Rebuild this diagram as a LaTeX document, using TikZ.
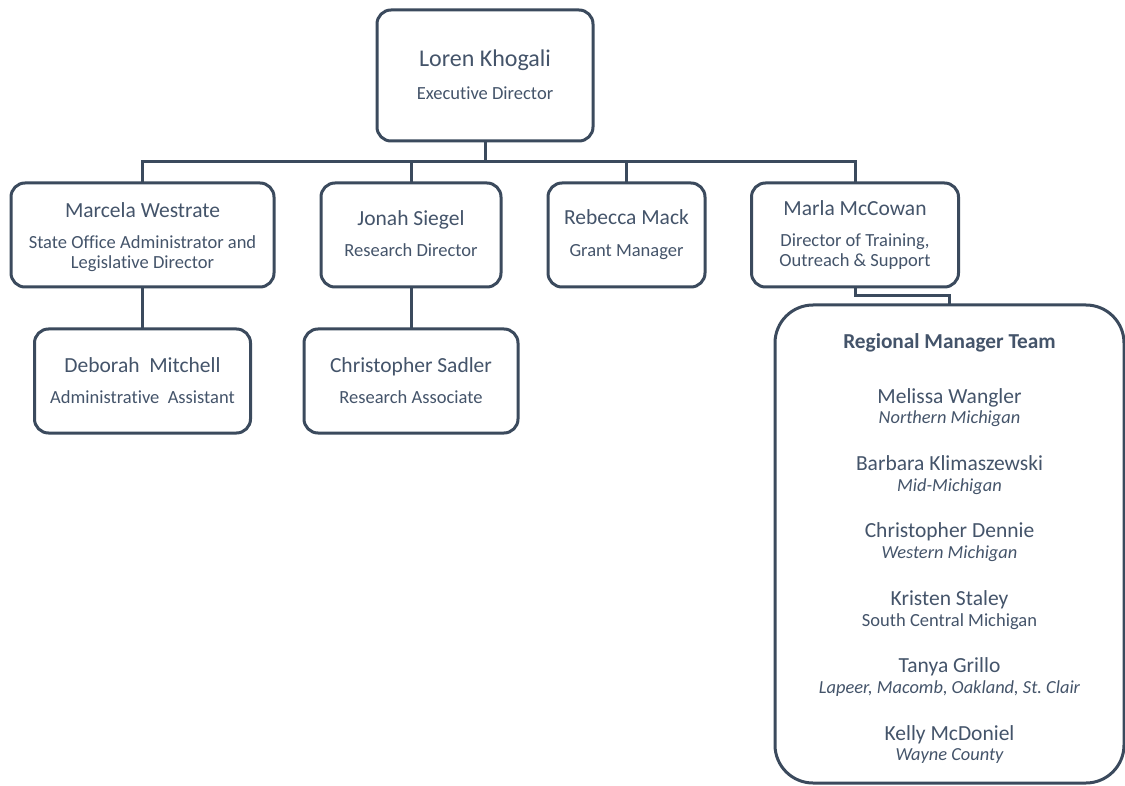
\documentclass[tikz,border=0pt]{standalone}
\usepackage{fontspec}
\setmainfont{Carlito}[Ligatures=CommonOff]
\frenchspacing
\definecolor{ln}{HTML}{3B4A5D}
\definecolor{tx}{HTML}{44546A}
\begin{document}
\begin{tikzpicture}[x=1pt,y=-1pt,
  box/.style={draw=ln,line width=3pt,rounded corners=14pt,inner sep=0pt,outer sep=0pt,fill=white},
  conn/.style={draw=ln,line width=3pt},
  nm/.style={text=tx,anchor=base,inner sep=0pt,font=\fontsize{21.5}{24}\selectfont},
  bignm/.style={nm,font=\fontsize{24}{26}\selectfont},
  sub/.style={text=tx,anchor=base,inner sep=0pt,font=\fontsize{18.5}{21}\selectfont},
  loc/.style={text=tx,anchor=base,inner sep=0pt,font=\fontsize{18.4}{21}\selectfont\itshape},
  ttl/.style={text=tx,anchor=base,inner sep=0pt,font=\fontsize{21.3}{24}\selectfont\bfseries}]
\useasboundingbox (0,0) rectangle (1125,786);
\fill[white] (0,0) rectangle (1125,786);

% boxes
\node[box,minimum width=216pt,minimum height=131pt] (top) at (485,75.5) {};
\node[box,minimum width=263pt,minimum height=104pt] (marcela) at (142.5,235) {};
\node[box,minimum width=180pt,minimum height=104pt] (jonah) at (411,235) {};
\node[box,minimum width=157pt,minimum height=104pt] (rebecca) at (626.5,235) {};
\node[box,minimum width=207pt,minimum height=104pt] (marla) at (855,235) {};
\node[box,minimum width=216pt,minimum height=104pt] (deborah) at (142.5,381) {};
\node[box,minimum width=214pt,minimum height=104pt] (sadler) at (411,381) {};
\node[box,minimum width=349pt,minimum height=478pt,rounded corners=38pt] (regional) at (949.5,544) {};

% connectors
\coordinate (bus) at (0,162);
\draw[conn] (top.south) -- (top.south |- bus);
\draw[conn] (marcela.north) -- (marcela.north |- bus) -- (marla.north |- bus) -- (marla.north);
\draw[conn] (jonah.north) -- (jonah.north |- bus);
\draw[conn] (rebecca.north) -- (rebecca.north |- bus);
\draw[conn] (marcela.south) -- (deborah.north);
\draw[conn] (jonah.south) -- (sadler.north);
\draw[conn] (marla.south) -- ++(0,9) -| (regional.north);

% texts
\node[bignm] (t1) at (485,67) {Loren Khogali};
\node[sub] (t2) at (485,100) {Executive Director};

\node[nm] (m1) at (142.5,218) {Marcela Westrate};
\node[sub] (m2) at (142.5,249) {State Office Administrator and};
\node[sub] (m3) at (142.5,269) {Legislative Director};

\node[nm] (j1) at (411,226) {Jonah Siegel};
\node[sub] (j2) at (411,257) {Research Director};

\node[nm] (r1) at (626.5,225) {Rebecca Mack};
\node[sub] (r2) at (626.5,257) {Grant Manager};

\node[nm] (a1) at (855,216) {Marla McCowan};
\node[sub] (a2) at (855,247) {Director of Training,};
\node[sub] (a3) at (855,267) {Outreach \& Support};

\node[nm] (d1) at (142.5,373) {Deborah~ Mitchell};
\node[sub] (d2) at (142.5,403) {Administrative~ Assistant};

\node[nm] (s1) at (411,373) {Christopher Sadler};
\node[sub] (s2) at (411,403) {Research Associate};

\node[ttl] (g0) at (949.5,349) {Regional Manager Team};
\node[nm] (g1) at (949.5,403) {Melissa Wangler};
\node[loc] (g2) at (949.5,424) {Northern Michigan};
\node[nm] (g3) at (949.5,470) {Barbara Klimaszewski};
\node[loc] (g4) at (949.5,491) {Mid-Michigan};
\node[nm] (g5) at (949.5,537) {Christopher Dennie};
\node[loc] (g6) at (949.5,558) {Western Michigan};
\node[nm] (g7) at (949.5,605) {Kristen Staley};
\node[sub] (g8) at (949.5,626) {South Central Michigan};
\node[nm] (g9) at (949.5,672) {Tanya Grillo};
\node[loc] (g10) at (949.5,693) {Lapeer, Macomb, Oakland, St. Clair};
\node[nm] (g11) at (949.5,740) {Kelly McDoniel};
\node[loc] (g12) at (949.5,760) {Wayne County};
\end{tikzpicture}
\end{document}
